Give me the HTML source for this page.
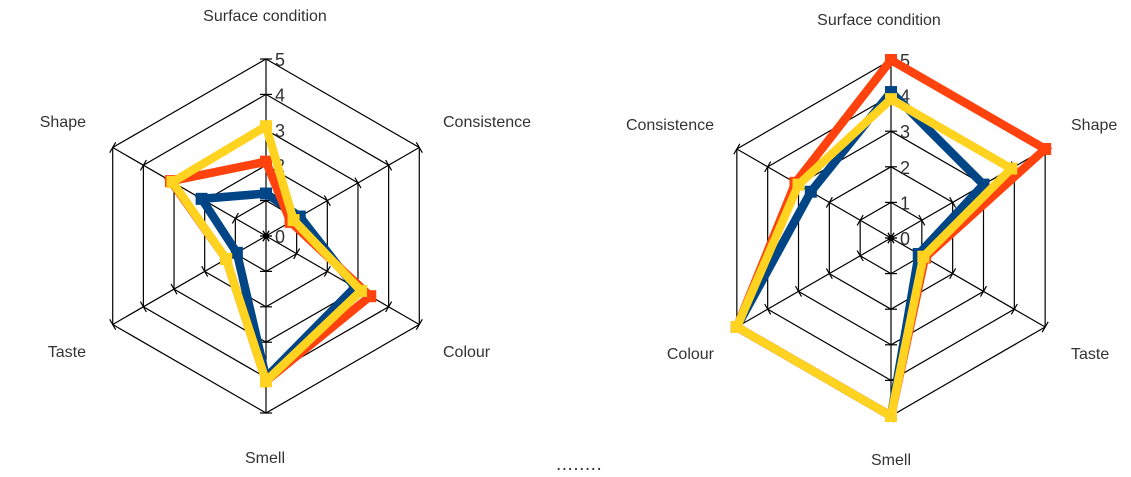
<!DOCTYPE html>
<html><head><meta charset="utf-8"><style>
html,body{margin:0;padding:0;background:#fff;}
svg{display:block}
text{font-family:"Liberation Sans",sans-serif;fill:#333;}
</style></head><body>
<svg id="s" width="1131" height="477" viewBox="0 0 1131 477" xmlns="http://www.w3.org/2000/svg">
<text x="265" y="21" font-size="16" text-anchor="middle">Surface condition</text>
<text x="443" y="127" font-size="16">Consistence</text>
<text x="443" y="357" font-size="16">Colour</text>
<text x="265" y="463" font-size="16" text-anchor="middle">Smell</text>
<text x="86" y="357" font-size="16" text-anchor="end">Taste</text>
<text x="86" y="127" font-size="16" text-anchor="end">Shape</text>
<text x="879" y="25" font-size="16" text-anchor="middle">Surface condition</text>
<text x="1071" y="130" font-size="16">Shape</text>
<text x="1071" y="359" font-size="16">Taste</text>
<text x="891" y="465" font-size="16" text-anchor="middle">Smell</text>
<text x="714" y="359" font-size="16" text-anchor="end">Colour</text>
<text x="714" y="130" font-size="16" text-anchor="end">Consistence</text>
<text x="556" y="470" font-size="19" fill="#000" letter-spacing="0.5">........</text>
</svg>
<script>
var NS="http://www.w3.org/2000/svg",s=document.getElementById('s');
function el(t,a){var e=document.createElementNS(NS,t);for(var k in a)e.setAttribute(k,a[k]);s.appendChild(e);return e;}
function chart(cx,cy,R,series){
 var u=R/5;
 function pt(i,r){var a=(i*60-90)*Math.PI/180;return [cx+r*u*Math.cos(a),cy+r*u*Math.sin(a)];}
 for(var k=1;k<=5;k++){var p=[];for(var i=0;i<6;i++)p.push(pt(i,k).join(','));
  el('polygon',{points:p.join(' '),fill:'none',stroke:'#000','stroke-width':1.2});}
 for(var i=0;i<6;i++){var q=pt(i,5);el('line',{x1:cx,y1:cy,x2:q[0],y2:q[1],stroke:'#000','stroke-width':1.2});
  for(var k=0;k<=5;k++){var c=pt(i,k),a=(i*60)*Math.PI/180;
   el('line',{x1:c[0]-6*Math.cos(a),y1:c[1]-6*Math.sin(a),x2:c[0]+6*Math.cos(a),y2:c[1]+6*Math.sin(a),stroke:'#000','stroke-width':1.2});}}
 for(var k=0;k<=5;k++){var t=el('text',{x:cx+9,y:cy-k*u+7,'font-size':18});t.textContent=k;}
 el('circle',{cx:cx,cy:cy,r:3,fill:'#000'});
 series.forEach(function(sr){var p=sr.v.map(function(v,i){return pt(i,v).join(',');});
  el('polygon',{points:p.join(' '),fill:'none',stroke:sr.c,'stroke-width':8.5,'stroke-linejoin':'miter'});
  sr.v.forEach(function(v,i){var q=pt(i,v);el('rect',{x:q[0]-6,y:q[1]-6,width:12,height:12,fill:sr.c});});});
}
chart(266,236,177,[
 {c:'#004586',v:[1.2,1.1,2.9,4.0,0.95,2.1]},
 {c:'#ff420e',v:[2.1,0.8,3.4,4.1,1.3,3.1]},
 {c:'#ffd320',v:[3.1,0.9,3.1,4.1,1.3,3.05]}]);
chart(891,238,178,[
 {c:'#004586',v:[4.1,3.0,0.9,5,5,2.6]},
 {c:'#ff420e',v:[5,5,1.1,5,5,3.1]},
 {c:'#ffd320',v:[3.9,3.9,1.05,5,5,3.0]}]);
</script>
</body></html>
